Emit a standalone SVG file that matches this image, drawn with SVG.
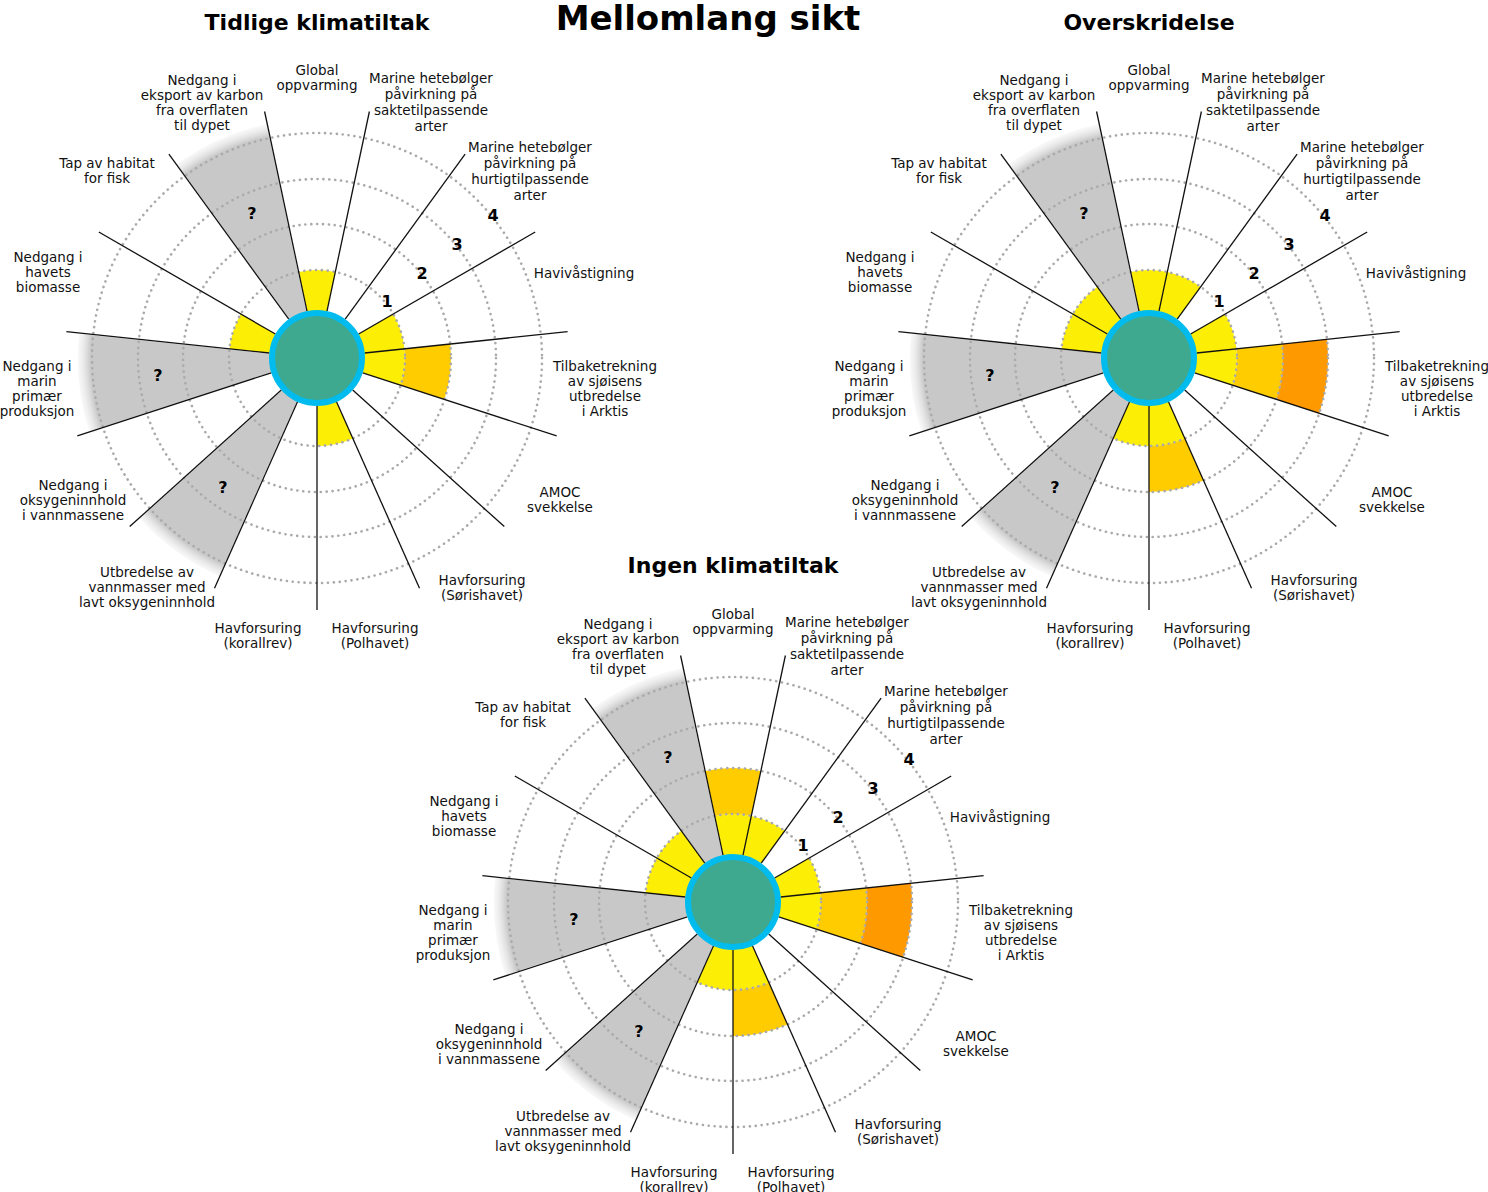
<svg xmlns="http://www.w3.org/2000/svg" xmlns:xlink="http://www.w3.org/1999/xlink" width="1488" height="1192" viewBox="0 0 1488 1192">
<style>
.t{font-family:"DejaVu Sans","Liberation Sans",sans-serif;font-size:13.5px;fill:#111;text-anchor:middle}
.h{font-family:"DejaVu Sans","Liberation Sans",sans-serif;font-weight:bold;fill:#000;text-anchor:middle}
.n{font-family:"DejaVu Sans","Liberation Sans",sans-serif;font-weight:bold;font-size:16px;fill:#000;text-anchor:middle}
.ring{fill:none;stroke:#aaa;stroke-width:2.6;stroke-dasharray:0.1 5.8;stroke-linecap:round}
.sp{stroke:#111;stroke-width:1.3}
.y{fill:#fdee06}.g{fill:#ffcc00}.o{fill:#ff9900}
.gr{fill:url(#fade);stroke:#fff;stroke-width:1.5}
.c{fill:#3fa98f;stroke:#00bbee;stroke-width:6}
</style>
<defs>
<radialGradient id="fade" gradientUnits="userSpaceOnUse" cx="0" cy="0" r="246">
<stop offset="0.92" stop-color="#c8c8c8"/><stop offset="1" stop-color="#ffffff" stop-opacity="0"/>
</radialGradient>
<g id="gray">
<path class="gr" d="M0,0 L-141.1,-194.2 A240,240 0 0 1 -49.9,-234.7 Z"/>
<path class="gr" d="M0,0 L-228.3,74.2 A240,240 0 0 1 -238.7,-25.1 Z"/>
<path class="gr" d="M0,0 L-97.6,219.2 A240,240 0 0 1 -178.3,160.6 Z"/>
</g>
<g id="base">
<circle class="ring" r="88"/><circle class="ring" r="134"/><circle class="ring" r="179"/><circle class="ring" r="225"/>
<g class="sp">
<line x1="10" y1="-46.9" x2="52.4" y2="-246.5"/>
<line x1="28.2" y1="-38.8" x2="148.1" y2="-203.9"/>
<line x1="41.6" y1="-24" x2="218.2" y2="-126"/>
<line x1="47.7" y1="-5" x2="250.6" y2="-26.3"/>
<line x1="45.7" y1="14.8" x2="239.7" y2="77.9"/>
<line x1="35.7" y1="32.1" x2="187.3" y2="168.6"/>
<line x1="19.5" y1="43.8" x2="102.5" y2="230.2"/>
<line x1="0" y1="48" x2="0" y2="252"/>
<line x1="-19.5" y1="43.8" x2="-102.5" y2="230.2"/>
<line x1="-35.7" y1="32.1" x2="-187.3" y2="168.6"/>
<line x1="-45.7" y1="14.8" x2="-239.7" y2="77.9"/>
<line x1="-47.7" y1="-5" x2="-250.6" y2="-26.3"/>
<line x1="-41.6" y1="-24" x2="-218.2" y2="-126"/>
<line x1="-28.2" y1="-38.8" x2="-148.1" y2="-203.9"/>
<line x1="-10" y1="-46.9" x2="-52.4" y2="-246.5"/>
</g>
<circle class="c" r="45"/>
<text class="n" x="70" y="-51">1</text><text class="n" x="105" y="-79">2</text><text class="n" x="140" y="-108">3</text><text class="n" x="176" y="-137">4</text>
<text class="n" x="-65" y="-139">?</text><text class="n" x="-159" y="23">?</text><text class="n" x="-94" y="135">?</text>
<g class="t">
<text x="0" y="-283">Global</text><text x="0" y="-268">oppvarming</text>
<text x="114" y="-275">Marine hetebølger</text><text x="114" y="-259">påvirkning på</text><text x="114" y="-243">saktetilpassende</text><text x="114" y="-227">arter</text>
<text x="213" y="-206">Marine hetebølger</text><text x="213" y="-190">påvirkning på</text><text x="213" y="-174">hurtigtilpassende</text><text x="213" y="-158">arter</text>
<text x="267" y="-80">Havivåstigning</text>
<text x="288" y="13">Tilbaketrekning</text><text x="288" y="28">av sjøisens</text><text x="288" y="43">utbredelse</text><text x="288" y="58">i Arktis</text>
<text x="243" y="139">AMOC</text><text x="243" y="154">svekkelse</text>
<text x="165" y="227">Havforsuring</text><text x="165" y="242">(Sørishavet)</text>
<text x="58" y="275">Havforsuring</text><text x="58" y="290">(Polhavet)</text>
<text x="-59" y="275">Havforsuring</text><text x="-59" y="290">(korallrev)</text>
<text x="-170" y="219">Utbredelse av</text><text x="-170" y="234">vannmasser med</text><text x="-170" y="249">lavt oksygeninnhold</text>
<text x="-244" y="132">Nedgang i</text><text x="-244" y="147">oksygeninnhold</text><text x="-244" y="162">i vannmassene</text>
<text x="-280" y="13">Nedgang i</text><text x="-280" y="28">marin</text><text x="-280" y="43">primær</text><text x="-280" y="58">produksjon</text>
<text x="-269" y="-96">Nedgang i</text><text x="-269" y="-81">havets</text><text x="-269" y="-66">biomasse</text>
<text x="-210" y="-190">Tap av habitat</text><text x="-210" y="-175">for fisk</text>
<text x="-115" y="-273">Nedgang i</text><text x="-115" y="-258">eksport av karbon</text><text x="-115" y="-243">fra overflaten</text><text x="-115" y="-228">til dypet</text>
</g>
</g>
</defs>
<text class="h" x="708" y="30" font-size="34">Mellomlang sikt</text>
<text class="h" x="317" y="30" font-size="22">Tidlige klimatiltak</text>
<text class="h" x="1149" y="30" font-size="22">Overskridelse</text>
<text class="h" x="733" y="573" font-size="22">Ingen klimatiltak</text>

<g id="tidlige" transform="translate(317,358)">
<use xlink:href="#gray"/>
<path class="y" d="M0,0 L-18.3,-86.1 A88,88 0 0 1 18.3,-86.1 Z"/>
<path class="y" d="M0,0 L76.2,-44 A88,88 0 0 1 87.5,-9.2 Z"/>
<path class="y" d="M0,0 L87.5,-9.2 A88,88 0 0 1 83.7,27.2 Z"/>
<path class="g" d="M87.5,-9.2 L133.3,-14 A134,134 0 0 1 127.4,41.4 L83.7,27.2 A88,88 0 0 0 87.5,-9.2 Z"/>
<path class="y" d="M0,0 L35.8,80.4 A88,88 0 0 1 0,88 Z"/>
<path class="y" d="M0,0 L-87.5,-9.2 A88,88 0 0 1 -76.2,-44 Z"/>
<use xlink:href="#base"/>
</g>

<g id="overskridelse" transform="translate(1149,358)">
<use xlink:href="#gray"/>
<path class="y" d="M0,0 L-18.3,-86.1 A88,88 0 0 1 18.3,-86.1 Z"/>
<path class="y" d="M0,0 L18.3,-86.1 A88,88 0 0 1 51.7,-71.2 Z"/>
<path class="y" d="M0,0 L76.2,-44 A88,88 0 0 1 87.5,-9.2 Z"/>
<path class="y" d="M0,0 L87.5,-9.2 A88,88 0 0 1 83.7,27.2 Z"/>
<path class="g" d="M87.5,-9.2 L133.3,-14 A134,134 0 0 1 127.4,41.4 L83.7,27.2 A88,88 0 0 0 87.5,-9.2 Z"/>
<path class="o" d="M133.3,-14 L178,-18.7 A179,179 0 0 1 170.2,55.3 L127.4,41.4 A134,134 0 0 0 133.3,-14 Z"/>
<path class="y" d="M0,0 L35.8,80.4 A88,88 0 0 1 0,88 Z"/>
<path class="g" d="M35.8,80.4 L54.5,122.4 A134,134 0 0 1 0,134 L0,88 A88,88 0 0 0 35.8,80.4 Z"/>
<path class="y" d="M0,0 L0,88 A88,88 0 0 1 -35.8,80.4 Z"/>
<path class="y" d="M0,0 L-87.5,-9.2 A88,88 0 0 1 -76.2,-44 Z"/>
<path class="y" d="M0,0 L-76.2,-44 A88,88 0 0 1 -51.7,-71.2 Z"/>
<use xlink:href="#base"/>
</g>

<g id="ingen" transform="translate(733,902)">
<use xlink:href="#gray"/>
<path class="y" d="M0,0 L-18.3,-86.1 A88,88 0 0 1 18.3,-86.1 Z"/>
<path class="g" d="M-18.3,-86.1 L-27.9,-131.1 A134,134 0 0 1 27.9,-131.1 L18.3,-86.1 A88,88 0 0 0 -18.3,-86.1 Z"/>
<path class="y" d="M0,0 L18.3,-86.1 A88,88 0 0 1 51.7,-71.2 Z"/>
<path class="y" d="M0,0 L76.2,-44 A88,88 0 0 1 87.5,-9.2 Z"/>
<path class="y" d="M0,0 L87.5,-9.2 A88,88 0 0 1 83.7,27.2 Z"/>
<path class="g" d="M87.5,-9.2 L133.3,-14 A134,134 0 0 1 127.4,41.4 L83.7,27.2 A88,88 0 0 0 87.5,-9.2 Z"/>
<path class="o" d="M133.3,-14 L178,-18.7 A179,179 0 0 1 170.2,55.3 L127.4,41.4 A134,134 0 0 0 133.3,-14 Z"/>
<path class="y" d="M0,0 L35.8,80.4 A88,88 0 0 1 0,88 Z"/>
<path class="g" d="M35.8,80.4 L54.5,122.4 A134,134 0 0 1 0,134 L0,88 A88,88 0 0 0 35.8,80.4 Z"/>
<path class="y" d="M0,0 L0,88 A88,88 0 0 1 -35.8,80.4 Z"/>
<path class="y" d="M0,0 L-87.5,-9.2 A88,88 0 0 1 -76.2,-44 Z"/>
<path class="y" d="M0,0 L-76.2,-44 A88,88 0 0 1 -51.7,-71.2 Z"/>
<use xlink:href="#base"/>
</g>
</svg>
